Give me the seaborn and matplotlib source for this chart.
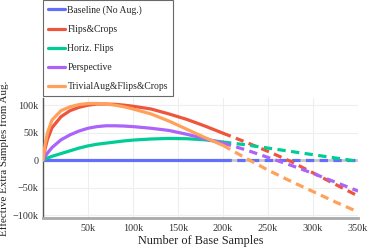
import matplotlib

matplotlib.use("Agg")
import matplotlib.pyplot as plt
import numpy as np
import pandas as pd
import seaborn as sns
from matplotlib.ticker import FuncFormatter

sns.set_style("white")
plt.rcParams["font.family"] = ["Liberation Serif", "DejaVu Serif"]

SERIES = [
    "Baseline (No Aug.)",
    "Flips&Crops",
    "Horiz. Flips",
    "Perspective",
    "TrivialAug&Flips&Crops",
]
COLORS = ["#636efa", "#ef553b", "#00cc96", "#ab63fa", "#ffa15a"]

# measured range (solid), in base samples
X_SOLID = [0, 2.5e3, 5e3, 10e3, 20e3, 30e3, 40e3, 50e3, 60e3, 70e3, 80e3, 90e3,
           100e3, 120e3, 140e3, 160e3, 180e3, 200e3]
Y_SOLID = {
    "Baseline (No Aug.)": [0] * 18,
    "Flips&Crops": [0, 22e3, 38e3, 59e3, 79e3, 90e3, 96e3, 100e3, 102e3, 102e3,
                    101.5e3, 100e3, 98e3, 93e3, 84e3, 74e3, 62e3, 49e3],
    "Horiz. Flips": [0, 2e3, 4e3, 7e3, 12e3, 17e3, 22e3, 26e3, 29e3, 31e3, 33e3,
                     35e3, 36.5e3, 38.5e3, 39.5e3, 39e3, 37e3, 33e3],
    "Perspective": [0, 7e3, 13e3, 23e3, 37e3, 46e3, 53e3, 58e3, 61e3, 62.5e3,
                    62.5e3, 62e3, 61e3, 58e3, 54e3, 47e3, 39e3, 31e3],
    "TrivialAug&Flips&Crops": [0, 30e3, 50e3, 73e3, 90e3, 97e3, 101e3, 103e3,
                               103e3, 102e3, 100e3, 97e3, 93e3, 84e3, 71e3, 56e3,
                               41e3, 27e3],
}

# extrapolated range (dashed)
X_DASH = [200e3, 225e3, 250e3, 275e3, 300e3, 325e3, 350e3]
Y_DASH = {
    "Baseline (No Aug.)": [0] * 7,
    "Flips&Crops": [49e3, 33e3, 16e3, -2e3, -23e3, -44e3, -65e3],
    "Horiz. Flips": [33e3, 28e3, 22e3, 16e3, 10e3, 4e3, -2e3],
    "Perspective": [31e3, 19e3, 5e3, -9e3, -24e3, -40e3, -56e3],
    "TrivialAug&Flips&Crops": [27e3, 4e3, -18e3, -38e3, -57e3, -76e3, -94e3],
}


def kfmt(v, _):
    if v == 0:
        return "0"
    s = f"{abs(v) / 1000:g}k"
    return ("\u2212" + s) if v < 0 else s


fig = plt.figure(figsize=(3.73, 2.49), dpi=100)
ax = fig.add_axes([0.1153, 0.1245, 0.8445, 0.482])

ax.axhline(0, color="#c8c8c8", lw=2, zorder=1)

for name, color in zip(SERIES, COLORS):
    solid = pd.DataFrame({"x": X_SOLID, "y": Y_SOLID[name]})
    dash = pd.DataFrame({"x": X_DASH, "y": Y_DASH[name]})
    sns.lineplot(data=solid, x="x", y="y", ax=ax, color=color, lw=2.3,
                 label=name, zorder=3)
    sns.lineplot(data=dash, x="x", y="y", ax=ax, color=color, lw=2.3,
                 zorder=3).lines[-1].set_dashes([2.6, 1.7])

ax.set_xlim(0, 350e3)
ax.set_ylim(-105e3, 113e3)
ax.set_xticks([50e3, 100e3, 150e3, 200e3, 250e3, 300e3, 350e3])
ax.set_yticks([-100e3, -50e3, 0, 50e3, 100e3])
ax.xaxis.set_major_formatter(FuncFormatter(kfmt))
ax.yaxis.set_major_formatter(FuncFormatter(kfmt))
ax.tick_params(labelsize=7.3, length=0, colors="#333333")
ax.tick_params(axis="x", pad=4)
ax.tick_params(axis="y", pad=3)
ax.grid(True, color="#eeeeee", lw=0.8)
ax.set_axisbelow(True)

for side in ["top", "right"]:
    ax.spines[side].set_visible(False)
ax.spines["left"].set_color("#555555")
ax.spines["left"].set_linewidth(1)
ax.spines["bottom"].set_color("#aaaaaa")
ax.spines["bottom"].set_linewidth(2)

ax.set_xlabel("Number of Base Samples", fontsize=8.8, color="#222222", labelpad=1.5)
ax.set_ylabel("Effective Extra Samples from Aug.", fontsize=7.9, color="#222222",
              labelpad=3)

ax.get_legend().remove()
handles, labels = ax.get_legend_handles_labels()
leg = fig.legend(handles, labels, loc="upper left",
                 bbox_to_anchor=(43 / 373, 1.0), fontsize=6.9,
                 frameon=True, fancybox=False, handlelength=1.7,
                 handletextpad=0.3, labelspacing=1.05, borderpad=0.55,
                 borderaxespad=0)
leg.get_frame().set_edgecolor("#444444")
leg.get_frame().set_linewidth(0.8)
leg.set_zorder(10)

fig.savefig("out.png", dpi=100)
